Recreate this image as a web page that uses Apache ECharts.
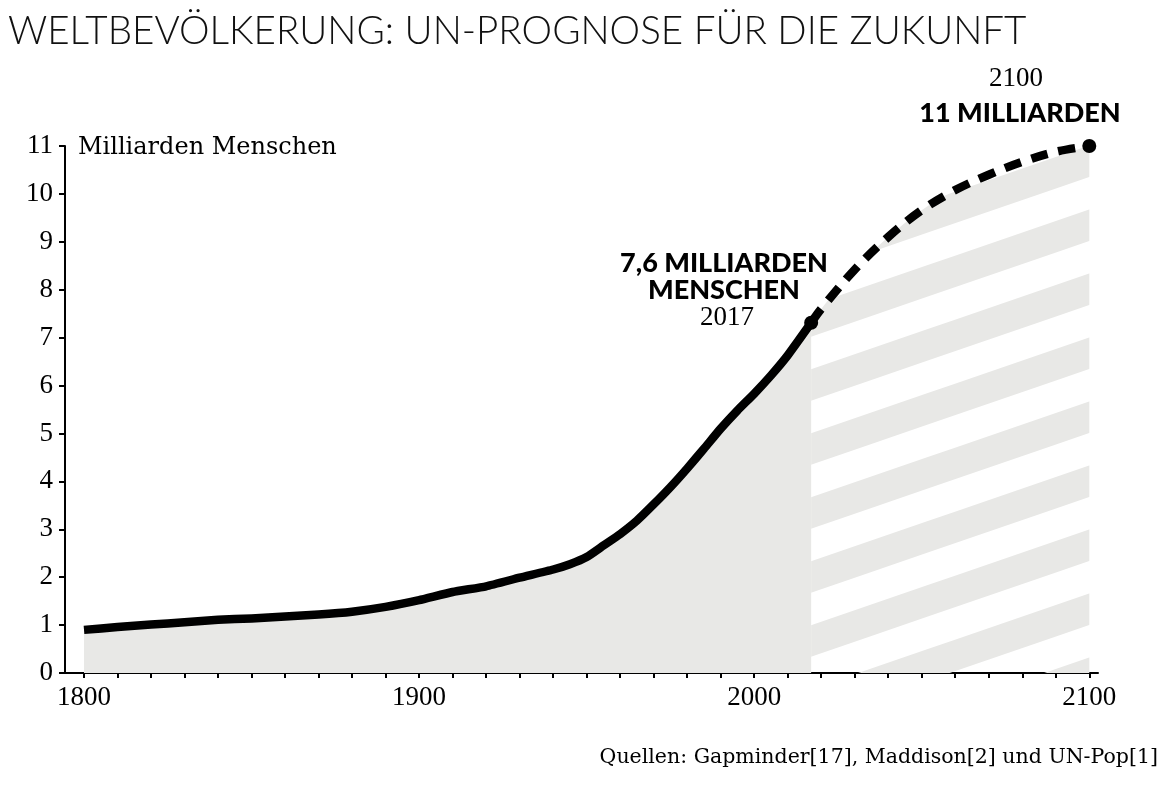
<!DOCTYPE html>
<html>
<head>
<meta charset="utf-8">
<script src="https://cdn.jsdelivr.net/npm/echarts@6/dist/echarts.min.js"></script>
<style>
  html, body { margin: 0; padding: 0; background: #ffffff; }
  #chart { width: 1173px; height: 797px; }
</style>
</head>
<body>
<div id="chart"></div>
<script>
// ---- data ----
const histYears = [1800, 1810, 1820, 1830, 1840, 1850, 1860, 1870, 1880, 1890,
                   1900, 1910, 1920, 1930, 1940, 1945, 1950, 1955, 1960, 1965,
                   1970, 1975, 1980, 1985, 1990, 1995, 2000, 2005, 2010, 2017];
const histPop   = [0.90, 0.96, 1.01, 1.06, 1.11, 1.14, 1.18, 1.22, 1.28, 1.38,
                   1.52, 1.69, 1.81, 1.99, 2.16, 2.27, 2.42, 2.66, 2.90, 3.18,
                   3.52, 3.88, 4.27, 4.68, 5.10, 5.48, 5.83, 6.21, 6.63, 7.31];
const projYears = [2017, 2020, 2030, 2040, 2050, 2060, 2070, 2080, 2090, 2100];
const projPop   = [7.31, 7.60, 8.42, 9.10, 9.66, 10.08, 10.40, 10.67, 10.88, 11.00];
const markYears = [2017, 2100];
const markPop   = [7.31, 11.00];
const xTickValues  = [1800, 1810, 1820, 1830, 1840, 1850, 1860, 1870, 1880, 1890,
                      1900, 1910, 1920, 1930, 1940, 1950, 1960, 1970, 1980, 1990,
                      2000, 2010, 2020, 2030, 2040, 2050, 2060, 2070, 2080, 2090, 2100];
const xLabelValues = [1800, 1900, 2000, 2100];
const yTickValues  = [0, 1, 2, 3, 4, 5, 6, 7, 8, 9, 10, 11];

const titleText  = 'WELTBEVÖLKERUNG: UN-PROGNOSE FÜR DIE ZUKUNFT';
const unitText   = 'Milliarden Menschen';
const note2017a  = '7,6 MILLIARDEN';
const note2017b  = 'MENSCHEN';
const note2017c  = '2017';
const note2100a  = '2100';
const note2100b  = '11 MILLIARDEN';
const sourceText = 'Quellen: Gapminder[17], Maddison[2] und UN-Pop[1]';

// ---- striped pattern tile for the projection area ----
const GRAY = '#e8e8e6';
function makeStripeTile() {
  const W = 186, H = 64, s = H / W, c = 8.35, band = 31.5;
  const cv = document.createElement('canvas');
  cv.width = W; cv.height = H;
  const ctx = cv.getContext('2d');
  ctx.fillStyle = GRAY;
  for (let k = -2; k <= 3; k++) {
    const y0 = c + H * k;
    ctx.beginPath();
    ctx.moveTo(0, y0);
    ctx.lineTo(W, y0 - s * W);
    ctx.lineTo(W, y0 - s * W + band);
    ctx.lineTo(0, y0 + band);
    ctx.closePath();
    ctx.fill();
  }
  return cv;
}
const stripeTile = makeStripeTile();

const zip = (a, b) => a.map((v, i) => [v, b[i]]);

const serif = 'Liberation Serif';
const chart = echarts.init(document.getElementById('chart'), null, { renderer: 'canvas' });

chart.setOption({
  animation: false,
  backgroundColor: '#ffffff',
  grid: { left: 65, top: 146, width: 1033, height: 527, containLabel: false },
  xAxis: {
    type: 'value',
    min: 1794.33,
    max: 2102.6,
    splitLine: { show: false },
    axisLine: { show: true, onZero: false, lineStyle: { color: '#000', width: 2 } },
    axisTick: { show: true, length: 5, lineStyle: { color: '#000', width: 2 }, customValues: xTickValues },
    axisLabel: {
      customValues: xLabelValues,
      margin: 11,
      color: '#000',
      fontFamily: serif,
      fontSize: 27,
      formatter: v => String(v)
    }
  },
  yAxis: {
    type: 'value',
    min: 0,
    max: 11,
    interval: 1,
    splitLine: { show: false },
    axisLine: { show: true, lineStyle: { color: '#000', width: 2 } },
    axisTick: { show: true, length: 6, lineStyle: { color: '#000', width: 2 }, customValues: yTickValues },
    axisLabel: {
      margin: 12,
      color: '#000',
      fontFamily: serif,
      fontSize: 27,
      customValues: yTickValues,
      formatter: v => String(v)
    }
  },
  series: [
    {
      type: 'line',
      data: zip(projYears, projPop),
      smooth: 0.35,
      symbol: 'none',
      z: 2,
      lineStyle: { color: '#000', width: 8.5, type: [17, 11], cap: 'butt', join: 'round' },
      areaStyle: { color: { image: stripeTile, repeat: 'repeat' }, opacity: 1 }
    },
    {
      type: 'line',
      data: zip(histYears, histPop),
      smooth: 0.15,
      symbol: 'none',
      z: 3,
      lineStyle: { color: '#000', width: 8.5, cap: 'butt', join: 'round' },
      areaStyle: { color: GRAY, opacity: 1 }
    },
    {
      type: 'scatter',
      data: zip(markYears, markPop),
      symbol: 'circle',
      symbolSize: 14,
      z: 4,
      itemStyle: { color: '#000', opacity: 1 }
    }
  ],
  graphic: [
    { type: 'text', left: 8, top: 12, style: { text: titleText, font: '300 38.6px Lato', fill: '#111' } },
    { type: 'text', x: 78, y: 148, style: { text: unitText, font: '24px "DejaVu Serif"', fill: '#000', verticalAlign: 'middle' } },
    { type: 'text', x: 724, y: 263, style: { text: note2017a, font: '900 27px Lato', fill: '#000', align: 'center', verticalAlign: 'middle' } },
    { type: 'text', x: 724, y: 290, style: { text: note2017b, font: '900 27px Lato', fill: '#000', align: 'center', verticalAlign: 'middle' } },
    { type: 'text', x: 727, y: 318, style: { text: note2017c, font: '27px "Liberation Serif"', fill: '#000', align: 'center', verticalAlign: 'middle' } },
    { type: 'text', x: 1016, y: 79, style: { text: note2100a, font: '27px "Liberation Serif"', fill: '#000', align: 'center', verticalAlign: 'middle' } },
    { type: 'text', x: 1020, y: 113, style: { text: note2100b, font: '900 27px Lato', fill: '#000', align: 'center', verticalAlign: 'middle' } },
    { type: 'text', x: 1158, y: 758, style: { text: sourceText, font: '20.5px "DejaVu Serif"', fill: '#000', align: 'right', verticalAlign: 'middle' } }
  ]
});
</script>
</body>
</html>
